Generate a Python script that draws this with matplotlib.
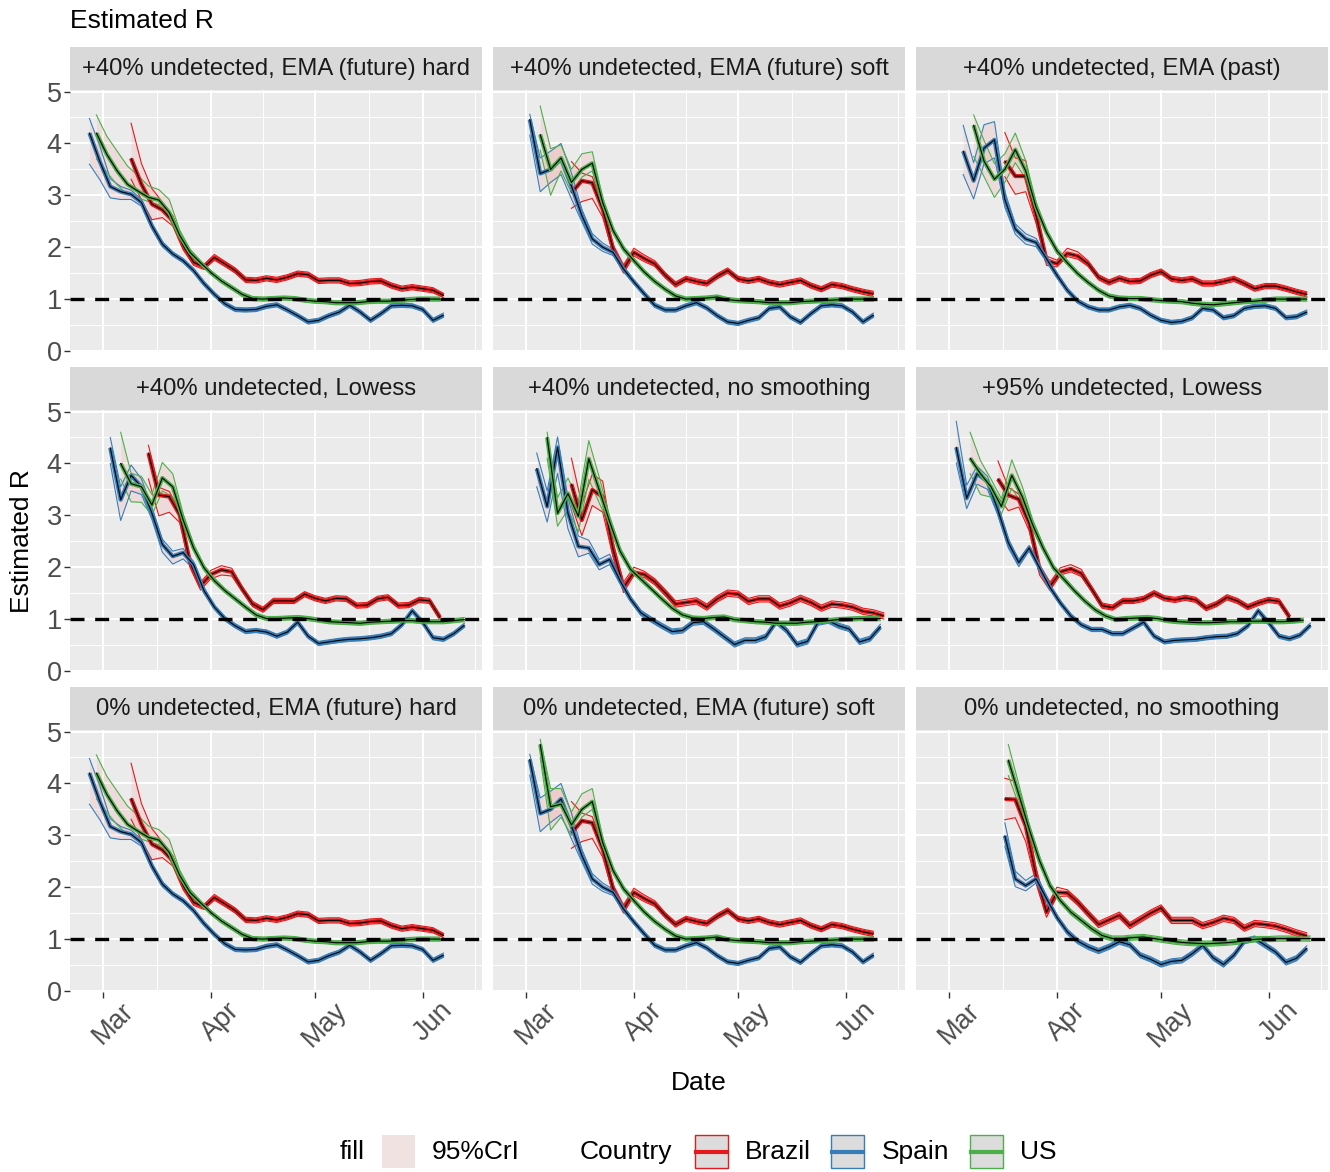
'''plot.py

Estimated R by country, 3x3 facets (ggplot-like look) with matplotlib.
'''
import numpy as np
import pandas as pd
import matplotlib
matplotlib.use("Agg")
import matplotlib.pyplot as plt
import matplotlib.dates as mdates
from matplotlib.patches import Rectangle
from matplotlib.lines import Line2D
from matplotlib.transforms import ScaledTranslation

plt.rcParams["font.family"] = ["Liberation Sans", "DejaVu Sans"]

# ---------------------------------------------------------------------------
# Data (one point every 3 days)
# order inside each panel: Brazil, Spain, US
# *_UP / *_DN = distance of the 95% CrI bounds above / below the median
# ---------------------------------------------------------------------------
COUNTRIES = ["Brazil", "Spain", "US"]
COLORS = {"Brazil": "#E41A1C", "Spain": "#377EB8", "US": "#4DAF4A"}

PANEL_TITLES = [
    "+40% undetected, EMA (future) hard",
    "+40% undetected, EMA (future) soft",
    "+40% undetected, EMA (past)",
    "+40% undetected, Lowess",
    "+40% undetected, no smoothing",
    "+95% undetected, Lowess",
    "0% undetected, EMA (future) hard",
    "0% undetected, EMA (future) soft",
    "0% undetected, no smoothing",
]

# panel 1 : +40% undetected, EMA (future) hard
P1_START = ["2020-03-09", "2020-02-26", "2020-02-28"]
P1_BRA = [3.71, 3.21, 2.83, 2.72, 2.51, 2.03, 1.71, 1.62, 1.80, 1.68,
          1.55, 1.37, 1.36, 1.40, 1.37, 1.42, 1.49, 1.47, 1.35, 1.36,
          1.36, 1.30, 1.31, 1.34, 1.35, 1.26, 1.20, 1.23, 1.20, 1.17,
          1.07]
P1_BRA_UP = [0.68, 0.40, 0.30, 0.15, 0.10, 0.08, 0.06, 0.05, 0.06, 0.05,
             0.05, 0.05, 0.05, 0.05, 0.05, 0.05, 0.05, 0.05, 0.05, 0.05,
             0.05, 0.05, 0.05, 0.05, 0.05, 0.05, 0.05, 0.05, 0.05, 0.05,
             0.04]
P1_BRA_DN = [0.40, 0.30, 0.30, 0.15, 0.10, 0.08, 0.06, 0.05, 0.05, 0.05,
             0.05, 0.05, 0.05, 0.05, 0.05, 0.05, 0.05, 0.05, 0.05, 0.05,
             0.05, 0.05, 0.05, 0.05, 0.05, 0.05, 0.05, 0.05, 0.05, 0.05,
             0.04]
P1_ESP = [4.20, 3.65, 3.17, 3.07, 3.02, 2.86, 2.41, 2.06, 1.87, 1.74,
          1.55, 1.30, 1.09, 0.91, 0.80, 0.79, 0.80, 0.86, 0.89, 0.79,
          0.68, 0.56, 0.59, 0.68, 0.75, 0.88, 0.75, 0.59, 0.72, 0.87,
          0.88, 0.87, 0.80, 0.59, 0.69]
P1_ESP_UP = [0.28, 0.30, 0.15, 0.10, 0.08, 0.06, 0.05, 0.05, 0.04, 0.04,
             0.04, 0.04, 0.04, 0.04, 0.04, 0.04, 0.04, 0.04, 0.04, 0.04,
             0.04, 0.04, 0.04, 0.04, 0.04, 0.04, 0.04, 0.04, 0.04, 0.04,
             0.04, 0.04, 0.04, 0.04, 0.04]
P1_ESP_DN = [0.60, 0.35, 0.22, 0.15, 0.10, 0.07, 0.06, 0.05, 0.04, 0.04,
             0.04, 0.04, 0.04, 0.04, 0.04, 0.04, 0.04, 0.04, 0.04, 0.04,
             0.04, 0.04, 0.04, 0.04, 0.04, 0.04, 0.04, 0.04, 0.04, 0.04,
             0.04, 0.04, 0.04, 0.04, 0.04]
P1_USA = [4.20, 3.79, 3.47, 3.21, 3.08, 2.96, 2.91, 2.67, 2.23, 1.90,
          1.70, 1.51, 1.35, 1.22, 1.09, 1.01, 1.00, 1.01, 1.02, 1.01,
          0.98, 0.96, 0.95, 0.93, 0.93, 0.93, 0.95, 0.96, 0.96, 0.97,
          0.99, 1.00, 1.00, 1.00]
P1_USA_UP = [0.35, 0.35, 0.38, 0.35, 0.30, 0.22, 0.20, 0.25, 0.10, 0.06,
             0.04, 0.04, 0.04, 0.04, 0.04, 0.04, 0.04, 0.04, 0.04, 0.04,
             0.04, 0.04, 0.04, 0.04, 0.04, 0.04, 0.04, 0.04, 0.04, 0.04,
             0.04, 0.04, 0.04, 0.04]
P1_USA_DN = [0.50, 0.34, 0.27, 0.20, 0.13, 0.08, 0.09, 0.12, 0.08, 0.05,
             0.04, 0.04, 0.04, 0.04, 0.04, 0.04, 0.04, 0.04, 0.04, 0.04,
             0.04, 0.04, 0.04, 0.04, 0.04, 0.04, 0.04, 0.04, 0.04, 0.04,
             0.04, 0.04, 0.04, 0.04]

# panel 2 : +40% undetected, EMA (future) soft
P2_START = ["2020-03-14", "2020-03-02", "2020-03-05"]
P2_BRA = [3.05, 3.28, 3.24, 2.73, 1.97, 1.58, 1.90, 1.78, 1.68, 1.46,
          1.28, 1.39, 1.34, 1.30, 1.44, 1.55, 1.39, 1.35, 1.39, 1.32,
          1.28, 1.32, 1.36, 1.26, 1.19, 1.28, 1.25, 1.19, 1.14, 1.10]
P2_BRA_UP = [0.60, 0.15, 0.12, 0.10, 0.08, 0.08, 0.08, 0.07, 0.06, 0.05,
             0.05, 0.05, 0.05, 0.05, 0.05, 0.05, 0.05, 0.05, 0.05, 0.05,
             0.05, 0.05, 0.05, 0.05, 0.05, 0.05, 0.05, 0.05, 0.05, 0.05]
P2_BRA_DN = [0.30, 0.40, 0.30, 0.15, 0.10, 0.08, 0.07, 0.06, 0.05, 0.05,
             0.05, 0.05, 0.05, 0.05, 0.05, 0.05, 0.05, 0.05, 0.05, 0.05,
             0.05, 0.05, 0.05, 0.05, 0.05, 0.05, 0.05, 0.05, 0.05, 0.05]
P2_ESP = [4.46, 3.42, 3.50, 3.70, 3.18, 2.61, 2.16, 2.00, 1.90, 1.58,
          1.33, 1.10, 0.88, 0.79, 0.79, 0.87, 0.93, 0.83, 0.68, 0.56,
          0.53, 0.59, 0.64, 0.82, 0.85, 0.66, 0.55, 0.72, 0.87, 0.89,
          0.87, 0.75, 0.56, 0.69]
P2_ESP_UP = [0.10, 0.30, 0.35, 0.30, 0.25, 0.12, 0.10, 0.08, 0.06, 0.05,
             0.04, 0.04, 0.04, 0.04, 0.04, 0.04, 0.04, 0.04, 0.04, 0.04,
             0.04, 0.04, 0.04, 0.04, 0.04, 0.04, 0.04, 0.04, 0.04, 0.04,
             0.04, 0.04, 0.04, 0.04]
P2_ESP_DN = [0.30, 0.35, 0.25, 0.30, 0.25, 0.12, 0.10, 0.08, 0.06, 0.05,
             0.04, 0.04, 0.04, 0.04, 0.04, 0.04, 0.04, 0.04, 0.04, 0.04,
             0.04, 0.04, 0.04, 0.04, 0.04, 0.04, 0.04, 0.04, 0.04, 0.04,
             0.04, 0.04, 0.04, 0.04]
P2_USA = [4.17, 3.50, 3.72, 3.25, 3.50, 3.62, 2.86, 2.32, 1.97, 1.74,
          1.52, 1.34, 1.19, 1.06, 1.00, 1.01, 1.02, 1.04, 0.99, 0.97,
          0.96, 0.95, 0.93, 0.93, 0.93, 0.95, 0.96, 0.97, 0.98, 0.99,
          1.00, 1.00, 1.00]
P2_USA_UP = [0.55, 0.40, 0.25, 0.25, 0.30, 0.22, 0.10, 0.06, 0.05, 0.05,
             0.04, 0.04, 0.04, 0.04, 0.04, 0.04, 0.04, 0.04, 0.04, 0.04,
             0.04, 0.04, 0.04, 0.04, 0.04, 0.04, 0.04, 0.04, 0.04, 0.04,
             0.04, 0.04, 0.04]
P2_USA_DN = [0.30, 0.50, 0.25, 0.20, 0.15, 0.15, 0.08, 0.05, 0.05, 0.04,
             0.04, 0.04, 0.04, 0.04, 0.04, 0.04, 0.04, 0.04, 0.04, 0.04,
             0.04, 0.04, 0.04, 0.04, 0.04, 0.04, 0.04, 0.04, 0.04, 0.04,
             0.04, 0.04, 0.04]

# panel 3 : +40% undetected, EMA (past)
P3_START = ["2020-03-17", "2020-03-05", "2020-03-08"]
P3_BRA = [3.66, 3.37, 3.37, 2.61, 1.75, 1.68, 1.88, 1.83, 1.68, 1.42,
          1.32, 1.40, 1.34, 1.35, 1.46, 1.53, 1.39, 1.36, 1.39, 1.30,
          1.30, 1.34, 1.39, 1.30, 1.20, 1.25, 1.25, 1.20, 1.14, 1.09]
P3_BRA_UP = [0.55, 0.35, 0.30, 0.15, 0.08, 0.07, 0.10, 0.08, 0.06, 0.05,
             0.05, 0.05, 0.05, 0.05, 0.05, 0.05, 0.05, 0.05, 0.05, 0.05,
             0.05, 0.05, 0.05, 0.05, 0.05, 0.05, 0.05, 0.05, 0.05, 0.05]
P3_BRA_DN = [0.30, 0.35, 0.30, 0.15, 0.10, 0.06, 0.06, 0.06, 0.05, 0.05,
             0.05, 0.05, 0.05, 0.05, 0.05, 0.05, 0.05, 0.05, 0.05, 0.05,
             0.05, 0.05, 0.05, 0.05, 0.05, 0.05, 0.05, 0.05, 0.05, 0.05]
P3_ESP = [3.85, 3.28, 3.91, 4.07, 2.92, 2.35, 2.16, 2.09, 1.78, 1.46,
          1.17, 0.96, 0.85, 0.79, 0.79, 0.85, 0.88, 0.82, 0.69, 0.59,
          0.55, 0.57, 0.64, 0.82, 0.79, 0.64, 0.68, 0.82, 0.86, 0.87,
          0.82, 0.64, 0.66, 0.75]
P3_ESP_UP = [0.50, 0.35, 0.45, 0.35, 0.15, 0.10, 0.10, 0.08, 0.06, 0.05,
             0.04, 0.04, 0.04, 0.04, 0.04, 0.04, 0.04, 0.04, 0.04, 0.04,
             0.04, 0.04, 0.04, 0.04, 0.04, 0.04, 0.04, 0.04, 0.04, 0.04,
             0.04, 0.04, 0.04, 0.04]
P3_ESP_DN = [0.45, 0.35, 0.30, 0.35, 0.15, 0.10, 0.10, 0.08, 0.06, 0.05,
             0.04, 0.04, 0.04, 0.04, 0.04, 0.04, 0.04, 0.04, 0.04, 0.04,
             0.04, 0.04, 0.04, 0.04, 0.04, 0.04, 0.04, 0.04, 0.04, 0.04,
             0.04, 0.04, 0.04, 0.04]
P3_USA = [4.35, 3.66, 3.31, 3.50, 3.88, 3.47, 2.77, 2.29, 1.93, 1.70,
          1.49, 1.32, 1.17, 1.06, 1.02, 1.01, 1.01, 0.99, 0.97, 0.96,
          0.95, 0.92, 0.90, 0.89, 0.91, 0.93, 0.95, 0.96, 0.98, 1.00,
          1.00, 1.00, 1.00]
P3_USA_UP = [0.20, 0.40, 0.30, 0.30, 0.32, 0.20, 0.10, 0.06, 0.05, 0.05,
             0.04, 0.04, 0.04, 0.04, 0.04, 0.04, 0.04, 0.04, 0.04, 0.04,
             0.04, 0.04, 0.04, 0.04, 0.04, 0.04, 0.04, 0.04, 0.04, 0.04,
             0.04, 0.04, 0.04]
P3_USA_DN = [0.60, 0.30, 0.35, 0.25, 0.25, 0.15, 0.08, 0.05, 0.05, 0.04,
             0.04, 0.04, 0.04, 0.04, 0.04, 0.04, 0.04, 0.04, 0.04, 0.04,
             0.04, 0.04, 0.04, 0.04, 0.04, 0.04, 0.04, 0.04, 0.04, 0.04,
             0.04, 0.04, 0.04]

# panel 4 : +40% undetected, Lowess
P4_START = ["2020-03-14", "2020-03-03", "2020-03-06"]
P4_BRA = [4.20, 3.39, 3.36, 3.01, 2.09, 1.64, 1.86, 1.95, 1.91, 1.58,
          1.29, 1.18, 1.35, 1.35, 1.35, 1.48, 1.40, 1.35, 1.40, 1.39,
          1.26, 1.27, 1.39, 1.42, 1.26, 1.27, 1.37, 1.35, 1.03]
P4_BRA_UP = [0.15, 0.15, 0.10, 0.08, 0.08, 0.07, 0.08, 0.08, 0.07, 0.05,
             0.05, 0.05, 0.05, 0.05, 0.05, 0.05, 0.05, 0.05, 0.05, 0.05,
             0.05, 0.05, 0.05, 0.05, 0.05, 0.05, 0.05, 0.05, 0.05]
P4_BRA_DN = [0.50, 0.40, 0.30, 0.15, 0.10, 0.08, 0.08, 0.10, 0.08, 0.05,
             0.05, 0.05, 0.05, 0.05, 0.05, 0.05, 0.05, 0.05, 0.05, 0.05,
             0.05, 0.05, 0.05, 0.05, 0.05, 0.05, 0.05, 0.05, 0.05]
P4_ESP = [4.30, 3.30, 3.77, 3.55, 3.04, 2.44, 2.21, 2.28, 2.05, 1.55,
          1.23, 1.01, 0.87, 0.76, 0.78, 0.75, 0.67, 0.75, 0.94, 0.67,
          0.53, 0.56, 0.59, 0.61, 0.62, 0.64, 0.67, 0.72, 0.89, 1.16,
          0.94, 0.64, 0.61, 0.72, 0.88]
P4_ESP_UP = [0.20, 0.25, 0.20, 0.15, 0.12, 0.10, 0.10, 0.08, 0.06, 0.05,
             0.04, 0.04, 0.04, 0.04, 0.04, 0.04, 0.04, 0.04, 0.04, 0.04,
             0.04, 0.04, 0.04, 0.04, 0.04, 0.04, 0.04, 0.04, 0.04, 0.04,
             0.04, 0.04, 0.04, 0.04, 0.04]
P4_ESP_DN = [0.30, 0.40, 0.30, 0.15, 0.12, 0.15, 0.15, 0.12, 0.08, 0.05,
             0.04, 0.04, 0.04, 0.04, 0.04, 0.04, 0.04, 0.04, 0.04, 0.04,
             0.04, 0.04, 0.04, 0.04, 0.04, 0.04, 0.04, 0.04, 0.04, 0.04,
             0.04, 0.04, 0.04, 0.04, 0.04]
P4_USA = [4.00, 3.61, 3.55, 3.20, 3.72, 3.55, 2.91, 2.37, 1.99, 1.74,
          1.55, 1.39, 1.23, 1.08, 1.01, 1.01, 1.02, 1.03, 1.01, 0.98,
          0.95, 0.94, 0.93, 0.92, 0.94, 0.95, 0.96, 0.97, 0.97, 0.95,
          0.95, 0.95, 0.97, 0.99]
P4_USA_UP = [0.60, 0.20, 0.20, 0.20, 0.30, 0.25, 0.12, 0.08, 0.05, 0.05,
             0.04, 0.04, 0.04, 0.04, 0.04, 0.04, 0.04, 0.04, 0.04, 0.04,
             0.04, 0.04, 0.04, 0.04, 0.04, 0.04, 0.04, 0.04, 0.04, 0.04,
             0.04, 0.04, 0.04, 0.04]
P4_USA_DN = [0.30, 0.35, 0.30, 0.20, 0.25, 0.20, 0.10, 0.05, 0.05, 0.04,
             0.04, 0.04, 0.04, 0.04, 0.04, 0.04, 0.04, 0.04, 0.04, 0.04,
             0.04, 0.04, 0.04, 0.04, 0.04, 0.04, 0.04, 0.04, 0.04, 0.04,
             0.04, 0.04, 0.04, 0.04]

# panel 5 : +40% undetected, no smoothing
P5_START = ["2020-03-14", "2020-03-04", "2020-03-07"]
P5_BRA = [3.60, 2.91, 3.49, 3.36, 2.34, 1.61, 1.90, 1.86, 1.72, 1.51,
          1.29, 1.32, 1.35, 1.23, 1.39, 1.50, 1.48, 1.34, 1.39, 1.39,
          1.25, 1.31, 1.40, 1.32, 1.21, 1.29, 1.27, 1.23, 1.15, 1.12,
          1.06]
P5_BRA_UP = [0.50, 0.30, 0.30, 0.30, 0.15, 0.10, 0.10, 0.06, 0.06, 0.06,
             0.06, 0.06, 0.06, 0.06, 0.06, 0.06, 0.06, 0.06, 0.06, 0.06,
             0.06, 0.06, 0.06, 0.06, 0.06, 0.06, 0.06, 0.06, 0.06, 0.06,
             0.06]
P5_BRA_DN = [0.40, 0.30, 0.30, 0.30, 0.15, 0.10, 0.06, 0.06, 0.06, 0.06,
             0.06, 0.06, 0.06, 0.06, 0.06, 0.06, 0.06, 0.06, 0.06, 0.06,
             0.06, 0.06, 0.06, 0.06, 0.06, 0.06, 0.06, 0.06, 0.06, 0.06,
             0.06]
P5_ESP = [3.90, 3.17, 4.31, 3.04, 2.40, 2.37, 2.05, 2.15, 1.74, 1.39,
          1.12, 0.99, 0.87, 0.76, 0.78, 0.93, 0.95, 0.81, 0.66, 0.51,
          0.59, 0.59, 0.66, 0.95, 0.78, 0.51, 0.57, 0.93, 0.97, 0.87,
          0.81, 0.56, 0.62, 0.85]
P5_ESP_UP = [0.30, 0.30, 0.20, 0.30, 0.20, 0.15, 0.10, 0.10, 0.06, 0.05,
             0.05, 0.05, 0.05, 0.05, 0.05, 0.05, 0.05, 0.05, 0.05, 0.05,
             0.05, 0.05, 0.05, 0.05, 0.05, 0.05, 0.05, 0.05, 0.05, 0.05,
             0.05, 0.05, 0.05, 0.05]
P5_ESP_DN = [0.35, 0.30, 0.50, 0.30, 0.20, 0.10, 0.10, 0.10, 0.06, 0.05,
             0.05, 0.05, 0.05, 0.05, 0.05, 0.05, 0.05, 0.05, 0.05, 0.05,
             0.05, 0.05, 0.05, 0.05, 0.05, 0.05, 0.05, 0.05, 0.05, 0.05,
             0.05, 0.05, 0.05, 0.05]
P5_USA = [4.50, 3.04, 3.42, 2.98, 4.09, 3.49, 2.88, 2.31, 1.96, 1.77,
          1.58, 1.39, 1.21, 1.08, 1.02, 1.01, 1.03, 1.04, 0.99, 0.97,
          0.95, 0.94, 0.92, 0.92, 0.92, 0.94, 0.95, 0.97, 0.99, 1.00,
          1.01, 1.01, 1.01]
P5_USA_UP = [0.10, 0.30, 0.30, 0.30, 0.35, 0.25, 0.10, 0.07, 0.05, 0.05,
             0.04, 0.04, 0.04, 0.04, 0.04, 0.04, 0.04, 0.04, 0.04, 0.04,
             0.04, 0.04, 0.04, 0.04, 0.04, 0.04, 0.04, 0.04, 0.04, 0.04,
             0.04, 0.04, 0.04]
P5_USA_DN = [0.40, 0.25, 0.30, 0.30, 0.40, 0.25, 0.10, 0.06, 0.05, 0.04,
             0.04, 0.04, 0.04, 0.04, 0.04, 0.04, 0.04, 0.04, 0.04, 0.04,
             0.04, 0.04, 0.04, 0.04, 0.04, 0.04, 0.04, 0.04, 0.04, 0.04,
             0.04, 0.04, 0.04]

# panel 6 : +95% undetected, Lowess
P6_START = ["2020-03-15", "2020-03-03", "2020-03-07"]
P6_BRA = [3.70, 3.39, 3.31, 2.85, 1.97, 1.63, 1.91, 1.97, 1.88, 1.58,
          1.26, 1.22, 1.35, 1.35, 1.39, 1.50, 1.40, 1.37, 1.41, 1.37,
          1.21, 1.29, 1.42, 1.35, 1.23, 1.31, 1.37, 1.34, 1.04]
P6_BRA_UP = [0.35, 0.15, 0.10, 0.08, 0.08, 0.08, 0.08, 0.08, 0.08, 0.05,
             0.05, 0.05, 0.05, 0.05, 0.05, 0.05, 0.05, 0.05, 0.05, 0.05,
             0.05, 0.05, 0.05, 0.05, 0.05, 0.05, 0.05, 0.05, 0.05]
P6_BRA_DN = [0.35, 0.30, 0.15, 0.15, 0.12, 0.08, 0.06, 0.06, 0.06, 0.05,
             0.05, 0.05, 0.05, 0.05, 0.05, 0.05, 0.05, 0.05, 0.05, 0.05,
             0.05, 0.05, 0.05, 0.05, 0.05, 0.05, 0.05, 0.05, 0.05]
P6_ESP = [4.31, 3.33, 3.80, 3.65, 3.10, 2.47, 2.09, 2.37, 1.99, 1.61,
          1.31, 1.06, 0.89, 0.80, 0.80, 0.72, 0.72, 0.83, 0.94, 0.67,
          0.56, 0.59, 0.60, 0.61, 0.64, 0.66, 0.67, 0.72, 0.87, 1.16,
          0.93, 0.67, 0.62, 0.69, 0.88]
P6_ESP_UP = [0.50, 0.25, 0.15, 0.10, 0.10, 0.08, 0.05, 0.05, 0.04, 0.04,
             0.04, 0.04, 0.04, 0.04, 0.04, 0.04, 0.04, 0.04, 0.04, 0.04,
             0.04, 0.04, 0.04, 0.04, 0.04, 0.04, 0.04, 0.04, 0.04, 0.04,
             0.04, 0.04, 0.04, 0.04, 0.04]
P6_ESP_DN = [0.30, 0.20, 0.20, 0.15, 0.10, 0.10, 0.08, 0.05, 0.04, 0.04,
             0.04, 0.04, 0.04, 0.04, 0.04, 0.04, 0.04, 0.04, 0.04, 0.04,
             0.04, 0.04, 0.04, 0.04, 0.04, 0.04, 0.04, 0.04, 0.04, 0.04,
             0.04, 0.04, 0.04, 0.04, 0.04]
P6_USA = [4.10, 3.80, 3.55, 3.17, 3.77, 3.36, 2.82, 2.37, 1.99, 1.77,
          1.55, 1.35, 1.18, 1.06, 0.99, 1.01, 1.02, 1.03, 1.01, 0.97,
          0.95, 0.94, 0.93, 0.93, 0.94, 0.95, 0.95, 0.96, 0.96, 0.95,
          0.95, 0.96, 0.98]
P6_USA_UP = [0.50, 0.25, 0.15, 0.15, 0.30, 0.20, 0.10, 0.07, 0.05, 0.05,
             0.04, 0.04, 0.04, 0.04, 0.04, 0.04, 0.04, 0.04, 0.04, 0.04,
             0.04, 0.04, 0.04, 0.04, 0.04, 0.04, 0.04, 0.04, 0.04, 0.04,
             0.04, 0.04, 0.04]
P6_USA_DN = [0.30, 0.40, 0.20, 0.15, 0.25, 0.15, 0.10, 0.05, 0.05, 0.04,
             0.04, 0.04, 0.04, 0.04, 0.04, 0.04, 0.04, 0.04, 0.04, 0.04,
             0.04, 0.04, 0.04, 0.04, 0.04, 0.04, 0.04, 0.04, 0.04, 0.04,
             0.04, 0.04, 0.04]

# panel 7 (0% undetected, EMA (future) hard) reads the same as panel 1
# panel 8 (0% undetected, EMA (future) soft) reads as panel 2, except the US start
P8_USA = [4.75, 3.55, 3.60, 3.20, 3.50, 3.65, 2.86, 2.32, 1.97, 1.74,
          1.52, 1.34, 1.19, 1.06, 1.00, 1.01, 1.02, 1.04, 0.99, 0.97,
          0.96, 0.95, 0.93, 0.93, 0.93, 0.95, 0.96, 0.97, 0.98, 0.99,
          1.00, 1.00, 1.00]
P8_USA_UP = [0.10, 0.35, 0.30, 0.25, 0.30, 0.25, 0.10, 0.06, 0.05, 0.05,
             0.04, 0.04, 0.04, 0.04, 0.04, 0.04, 0.04, 0.04, 0.04, 0.04,
             0.04, 0.04, 0.04, 0.04, 0.04, 0.04, 0.04, 0.04, 0.04, 0.04,
             0.04, 0.04, 0.04]
P8_USA_DN = [0.25, 0.45, 0.25, 0.20, 0.15, 0.15, 0.08, 0.05, 0.05, 0.04,
             0.04, 0.04, 0.04, 0.04, 0.04, 0.04, 0.04, 0.04, 0.04, 0.04,
             0.04, 0.04, 0.04, 0.04, 0.04, 0.04, 0.04, 0.04, 0.04, 0.04,
             0.04, 0.04, 0.04]

# panel 9 : 0% undetected, no smoothing
P9_START = ["2020-03-17", "2020-03-17", "2020-03-18"]
P9_BRA = [3.70, 3.69, 3.18, 2.22, 1.52, 1.90, 1.89, 1.71, 1.49, 1.28,
          1.37, 1.46, 1.26, 1.38, 1.50, 1.60, 1.36, 1.36, 1.36, 1.26,
          1.32, 1.40, 1.36, 1.21, 1.30, 1.28, 1.25, 1.19, 1.12, 1.06]
P9_BRA_UP = [0.40, 0.35, 0.30, 0.15, 0.10, 0.10, 0.06, 0.06, 0.06, 0.06,
             0.06, 0.06, 0.06, 0.06, 0.06, 0.06, 0.06, 0.06, 0.06, 0.06,
             0.06, 0.06, 0.06, 0.06, 0.06, 0.06, 0.06, 0.06, 0.06, 0.06]
P9_BRA_DN = [0.40, 0.35, 0.30, 0.15, 0.10, 0.08, 0.06, 0.06, 0.06, 0.06,
             0.06, 0.06, 0.06, 0.06, 0.06, 0.06, 0.06, 0.06, 0.06, 0.06,
             0.06, 0.06, 0.06, 0.06, 0.06, 0.06, 0.06, 0.06, 0.06, 0.06]
P9_ESP = [2.99, 2.16, 2.03, 2.16, 1.78, 1.42, 1.14, 0.96, 0.85, 0.77,
          0.85, 0.95, 0.89, 0.69, 0.61, 0.51, 0.57, 0.59, 0.72, 0.88,
          0.64, 0.51, 0.69, 0.96, 1.01, 0.88, 0.75, 0.55, 0.63, 0.82]
P9_ESP_UP = [0.25, 0.15, 0.10, 0.10, 0.05, 0.05, 0.05, 0.05, 0.05, 0.05,
             0.05, 0.05, 0.05, 0.05, 0.05, 0.05, 0.05, 0.05, 0.05, 0.05,
             0.05, 0.05, 0.05, 0.05, 0.05, 0.05, 0.05, 0.05, 0.05, 0.05]
P9_ESP_DN = [0.20, 0.15, 0.10, 0.08, 0.05, 0.05, 0.05, 0.05, 0.05, 0.05,
             0.05, 0.05, 0.05, 0.05, 0.05, 0.05, 0.05, 0.05, 0.05, 0.05,
             0.05, 0.05, 0.05, 0.05, 0.05, 0.05, 0.05, 0.05, 0.05, 0.05]
P9_USA = [4.45, 3.79, 3.12, 2.51, 2.03, 1.74, 1.52, 1.36, 1.20, 1.07,
          1.01, 1.01, 1.03, 1.04, 1.01, 0.98, 0.95, 0.93, 0.92, 0.91,
          0.92, 0.93, 0.95, 0.98, 1.00, 1.00, 1.01, 1.01, 1.01, 1.01]
P9_USA_UP = [0.30, 0.20, 0.10, 0.08, 0.06, 0.05, 0.05, 0.05, 0.05, 0.05,
             0.05, 0.05, 0.05, 0.05, 0.05, 0.05, 0.05, 0.05, 0.05, 0.05,
             0.05, 0.05, 0.05, 0.05, 0.05, 0.05, 0.05, 0.05, 0.05, 0.05]
P9_USA_DN = [0.30, 0.20, 0.10, 0.08, 0.05, 0.05, 0.05, 0.05, 0.05, 0.05,
             0.05, 0.05, 0.05, 0.05, 0.05, 0.05, 0.05, 0.05, 0.05, 0.05,
             0.05, 0.05, 0.05, 0.05, 0.05, 0.05, 0.05, 0.05, 0.05, 0.05]

STEP = "3D"  # spacing of the read-off points

PANELS = [
    (P1_START, [(P1_BRA, P1_BRA_UP, P1_BRA_DN), (P1_ESP, P1_ESP_UP, P1_ESP_DN), (P1_USA, P1_USA_UP, P1_USA_DN)]),
    (P2_START, [(P2_BRA, P2_BRA_UP, P2_BRA_DN), (P2_ESP, P2_ESP_UP, P2_ESP_DN), (P2_USA, P2_USA_UP, P2_USA_DN)]),
    (P3_START, [(P3_BRA, P3_BRA_UP, P3_BRA_DN), (P3_ESP, P3_ESP_UP, P3_ESP_DN), (P3_USA, P3_USA_UP, P3_USA_DN)]),
    (P4_START, [(P4_BRA, P4_BRA_UP, P4_BRA_DN), (P4_ESP, P4_ESP_UP, P4_ESP_DN), (P4_USA, P4_USA_UP, P4_USA_DN)]),
    (P5_START, [(P5_BRA, P5_BRA_UP, P5_BRA_DN), (P5_ESP, P5_ESP_UP, P5_ESP_DN), (P5_USA, P5_USA_UP, P5_USA_DN)]),
    (P6_START, [(P6_BRA, P6_BRA_UP, P6_BRA_DN), (P6_ESP, P6_ESP_UP, P6_ESP_DN), (P6_USA, P6_USA_UP, P6_USA_DN)]),
    (P1_START, [(P1_BRA, P1_BRA_UP, P1_BRA_DN), (P1_ESP, P1_ESP_UP, P1_ESP_DN), (P1_USA, P1_USA_UP, P1_USA_DN)]),
    (P2_START, [(P2_BRA, P2_BRA_UP, P2_BRA_DN), (P2_ESP, P2_ESP_UP, P2_ESP_DN), (P8_USA, P8_USA_UP, P8_USA_DN)]),
    (P9_START, [(P9_BRA, P9_BRA_UP, P9_BRA_DN), (P9_ESP, P9_ESP_UP, P9_ESP_DN), (P9_USA, P9_USA_UP, P9_USA_DN)]),
]

# ---------------------------------------------------------------------------
# Layout (pixels of the 1330 x 1172 output)
# ---------------------------------------------------------------------------
W, H = 1330, 1172
LEFTS = [70, 493, 916]
TOPS = [90, 410, 730]
PW, PH, STRIP = 412, 262, 43

TICK_COLOR = "#4D4D4D"
FILL_COLOR = "#F8766D"

fig = plt.figure(figsize=(W / 100, H / 100), dpi=100)

mar1 = mdates.date2num(pd.Timestamp("2020-03-01"))
month_ticks = [pd.Timestamp(s) for s in ["2020-03-01", "2020-04-01", "2020-05-01", "2020-06-01"]]
mid_ticks = [pd.Timestamp(s) for s in ["2020-03-16 12:00", "2020-04-16", "2020-05-16 12:00", "2020-06-16"]]

for i, (title, (starts, series)) in enumerate(zip(PANEL_TITLES, PANELS)):
    r, c = divmod(i, 3)
    ax = fig.add_axes([LEFTS[c] / W, 1 - (TOPS[r] + PH) / H, PW / W, PH / H])
    ax.set_facecolor("#EBEBEB")
    for sp in ax.spines.values():
        sp.set_visible(False)

    # ribbons first, then medians on top
    drawn = []
    for country, start, (med, up, dn) in zip(COUNTRIES, starts, series):
        n = min(len(med), len(up), len(dn))
        med = np.asarray(med[:n])
        lo = med - np.asarray(dn[:n])
        hi = med + np.asarray(up[:n])
        dates = pd.date_range(start, periods=n, freq=STEP)
        col = COLORS[country]
        ax.fill_between(dates, lo, hi, color=FILL_COLOR, alpha=0.13, lw=0, zorder=2)
        ax.plot(dates, lo, color=col, lw=0.8, zorder=3)
        ax.plot(dates, hi, color=col, lw=0.8, zorder=3)
        drawn.append((dates, med, col))
    for dates, med, col in drawn:
        ax.plot(dates, med, color=col, lw=3.0, solid_capstyle="butt", zorder=4)
        ax.plot(dates, med, color="black", lw=0.8, zorder=4)

    ax.axhline(1, color="black", lw=2.4, ls=(0, (4.2, 3.2)), zorder=6)

    ax.set_xlim(mar1 - 9.6, mar1 + 109.1)
    ax.set_ylim(-0.02, 5.03)
    ax.set_xticks(month_ticks)
    ax.set_xticks(mid_ticks, minor=True)
    ax.set_yticks(range(6))
    ax.set_yticks(np.arange(0.5, 5, 1.0), minor=True)
    ax.xaxis.set_major_formatter(mdates.DateFormatter("%b"))
    ax.grid(which="major", color="white", lw=1.4)
    ax.grid(which="minor", color="white", lw=0.7)
    ax.set_axisbelow(True)

    ax.tick_params(which="minor", length=0)
    ax.tick_params(which="major", length=4, width=1, color="#333333",
                   labelsize=19.5, labelcolor=TICK_COLOR, pad=2)
    if r < 2:
        ax.tick_params(axis="x", which="major", length=0, labelbottom=False)
    else:
        for lab in ax.get_xticklabels():
            lab.set_rotation(45)
            lab.set_ha("center")
            lab.set_va("top")
            lab.set_transform(lab.get_transform()
                              + ScaledTranslation(0.10, 0.03, fig.dpi_scale_trans))
    if c > 0:
        ax.tick_params(axis="y", which="major", length=0, labelleft=False)

    # facet strip
    ax.add_patch(Rectangle((0, 1), 1, STRIP / PH, transform=ax.transAxes,
                           facecolor="#D9D9D9", edgecolor="none", clip_on=False))
    ax.text(0.5, 1 + STRIP / PH / 2, title, transform=ax.transAxes,
            ha="center", va="center", fontsize=17.2, color="#1A1A1A")

# titles
fig.text(70 / W, 1 - 21 / H, "Estimated R", ha="left", va="center", fontsize=19)
fig.text(22 / W, 1 - 541 / H, "Estimated R", ha="center", va="center",
         rotation=90, fontsize=19)
fig.text(699 / W, 1 - 1083 / H, "Date", ha="center", va="center", fontsize=19)

# legend at the bottom (drawn in figure pixels)
def fx(x):
    return x / W


def fy(y):
    return 1 - y / H


LEG_Y = 1152
KEY_TOP, KEY_H, KEY_W = 1135, 33, 33
fig.text(fx(340), fy(LEG_Y), "fill", ha="left", va="center", fontsize=19)
fig.add_artist(Rectangle((fx(382), fy(KEY_TOP + KEY_H)), KEY_W / W, KEY_H / H,
                         transform=fig.transFigure, facecolor="#F1E2E2", edgecolor="none"))
fig.text(fx(432), fy(LEG_Y), "95%CrI", ha="left", va="center", fontsize=19)
fig.text(fx(580), fy(LEG_Y), "Country", ha="left", va="center", fontsize=19)
for country, kx, tx in zip(COUNTRIES, [695, 831, 970], [745, 882, 1020]):
    col = COLORS[country]
    fig.add_artist(Rectangle((fx(kx), fy(KEY_TOP + KEY_H)), KEY_W / W, KEY_H / H,
                             transform=fig.transFigure, facecolor="#DCDCDC",
                             edgecolor=col, lw=1.0))
    fig.add_artist(Line2D([fx(kx + 1), fx(kx + KEY_W - 1)], [fy(LEG_Y), fy(LEG_Y)],
                          transform=fig.transFigure, color=col, lw=3.0))
    fig.text(fx(tx), fy(LEG_Y), country, ha="left", va="center", fontsize=19)

fig.savefig("out.png", dpi=100, facecolor="white")
